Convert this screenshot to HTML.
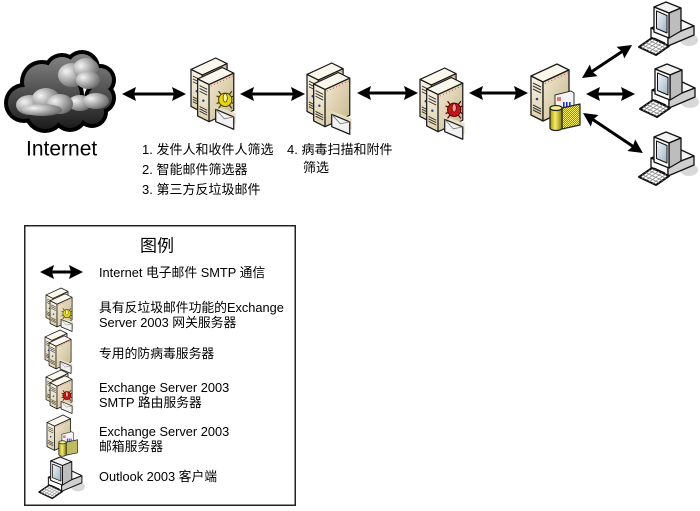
<!DOCTYPE html>
<html><head><meta charset="utf-8"><style>
html,body{margin:0;padding:0;background:#fff;}
svg{display:block;}
text{font-family:"Liberation Sans","Noto Sans CJK SC",sans-serif;fill:#000;}
</style></head><body>
<svg width="700" height="511" viewBox="0 0 700 511" xmlns="http://www.w3.org/2000/svg">
<defs>
 <linearGradient id="gSide" x1="0" y1="0" x2="1" y2="1">
  <stop offset="0" stop-color="#f1e9d2"/><stop offset="1" stop-color="#c6b68c"/>
 </linearGradient>
 <linearGradient id="gFront" x1="0" y1="0" x2="0" y2="1">
  <stop offset="0" stop-color="#f8f3e3"/><stop offset="1" stop-color="#ddd0aa"/>
 </linearGradient>
 <linearGradient id="gCloud" gradientUnits="userSpaceOnUse" x1="0" y1="52" x2="0" y2="134">
  <stop offset="0" stop-color="#888"/><stop offset="1" stop-color="#141414"/>
 </linearGradient>
 <radialGradient id="gBlob" cx="0.3" cy="0.35" r="0.8">
  <stop offset="0" stop-color="#f4f4f4"/><stop offset="1" stop-color="#5c5c5c"/>
 </radialGradient>
 <linearGradient id="gScreen" x1="0" y1="0" x2="1" y2="1">
  <stop offset="0" stop-color="#f0f6fa"/><stop offset="1" stop-color="#9fb4c4"/>
 </linearGradient>
 <linearGradient id="gCyl" x1="0" y1="0" x2="1" y2="0">
  <stop offset="0" stop-color="#a89800"/><stop offset="0.45" stop-color="#f4ec70"/><stop offset="1" stop-color="#8a7c00"/>
 </linearGradient>
 <pattern id="chk" width="2" height="2" patternUnits="userSpaceOnUse">
  <rect width="2" height="2" fill="#f2ea60"/><rect width="1" height="1" fill="#8c8a60"/><rect x="1" y="1" width="1" height="1" fill="#8c8a60"/>
 </pattern>

 <g id="tw">
  <g stroke="#1a1a1a" stroke-width="1.3" stroke-linejoin="round">
   <path d="M0,12 L26,0 L38,6 L12,18 Z" fill="#fbf7ec"/>
   <path d="M0,12 L12,18 L12,57 L0,51 Z" fill="url(#gFront)"/>
   <path d="M12,18 L38,6 L38,45 L12,57 Z" fill="url(#gSide)"/>
  </g>
  <g stroke="#333" stroke-width="1" fill="none">
   <path d="M2,19 L10,23 M2,22 L10,26 M2,25 L10,29"/>
   <path d="M2,41 L10,45 M2,43.5 L10,47.5 M2,46 L10,50"/>
  </g>
  <circle cx="6" cy="35" r="1.3" fill="#3040a0"/>
  <path d="M14,19.5 L37,9" stroke="#e04040" stroke-width="1" stroke-dasharray="1 2.5" fill="none"/>
 </g>

 <g id="env">
  <path d="M24,50 L47,58 L47,70 L30,66 Z" fill="#e8dfc4"/>
  <path d="M26,54 L45,62 L45,75 L26,67 Z" fill="#f2f2f2" stroke="#1a1a1a" stroke-width="1.3" stroke-linejoin="round"/>
  <path d="M26,54 L35,64 L45,62" fill="none" stroke="#777" stroke-width="0.8"/>
 </g>

 <g id="srv2">
  <use href="#tw"/>
  <use href="#tw" x="7" y="10"/>
  <use href="#env"/>
 </g>

 <g id="bY">
  <g stroke="#4a3c00" stroke-width="1.3">
   <path d="M27,40 L45,48 M27,48 L45,40 M29,35 L43,53 M43,35 L29,53"/>
  </g>
  <circle cx="36" cy="44" r="7" fill="#e6d800" stroke="#4a3c00" stroke-width="1"/>
  <ellipse cx="36" cy="42" rx="2.2" ry="4.5" fill="#fffbb0" stroke="#4a3c00" stroke-width="0.8"/>
 </g>
 <g id="bR">
  <g stroke="#5a0000" stroke-width="1.3">
   <path d="M27,40 L45,48 M27,48 L45,40 M29,35 L43,53 M43,35 L29,53"/>
  </g>
  <circle cx="36" cy="44" r="7" fill="#c81414" stroke="#5a0000" stroke-width="1"/>
  <ellipse cx="36" cy="42" rx="2.2" ry="4.5" fill="#f4a0a0" stroke="#5a0000" stroke-width="0.8"/>
 </g>

 <g id="mb">
  <path d="M24,31 L40,27 L43,29 L43,46 L24,46 Z" fill="#f4f4f4" stroke="#333" stroke-width="1"/>
  <rect x="26" y="33" width="4" height="4" fill="#f07070"/>
  <rect x="32" y="38" width="1.6" height="6" fill="#2030e0"/>
  <rect x="35" y="38" width="1.6" height="6" fill="#2030e0"/>
  <rect x="38" y="38" width="1.6" height="6" fill="#2030e0"/>
  <path d="M31,44 L49,40 L49,61 L31,65 Z" fill="url(#chk)" stroke="#222" stroke-width="1.2" stroke-linejoin="round"/>
  <path d="M19,44 V64 A6,2.5 0 0 0 31,64 V44" fill="url(#gCyl)" stroke="#222" stroke-width="1.2"/>
  <ellipse cx="25" cy="44" rx="6" ry="2.5" fill="#f6f090" stroke="#222" stroke-width="1.2"/>
 </g>

 <g id="cl">
  <ellipse cx="50" cy="38" rx="9" ry="6" fill="#d8d8d8"/>
  <g stroke="#111" stroke-width="1.3" stroke-linejoin="round">
   <path d="M12,26 L38,16 L55,24 L29,34 Z" fill="#f6f6f6"/>
   <path d="M12,26 L29,34 L29,44 L12,36 Z" fill="#fff"/>
   <path d="M29,34 L55,24 L55,33 L29,44 Z" fill="#cfcfcf"/>
   <path d="M15,36 L26,41" fill="none" stroke-width="1"/>
   <path d="M15,5 L27,0 L42,6 L30,11 Z" fill="#f2f2f2"/>
   <path d="M30,11 L42,6 L42,29 L30,36 Z" fill="#bdbdbd"/>
   <path d="M15,5 L30,11 L30,36 L15,30 Z" fill="#fafafa"/>
   <path d="M17.5,9 L28,13.5 L28,31 L17.5,26.5 Z" fill="url(#gScreen)" stroke-width="1"/>
   <path d="M0,45 L13,36 L30,44 L17,53 Z" fill="#fff" stroke-width="2"/>
  </g>
  <path d="M3.25,42.75 L20.25,50.75 M6.5,40.5 L23.5,48.5 M9.75,38.25 L26.75,46.25 M3.4,46.6 L16.4,37.6 M6.8,48.2 L19.8,39.2 M10.2,49.8 L23.2,40.8 M13.6,51.4 L26.6,42.4" stroke="#888" stroke-width="0.7" fill="none"/>
 </g>
</defs>

<!-- Cloud -->
<g>
 <g fill="#000">
  <circle cx="24" cy="103" r="20"/>
  <circle cx="42" cy="82" r="22"/>
  <circle cx="62" cy="72" r="19"/>
  <circle cx="82" cy="68" r="18"/>
  <circle cx="100" cy="80" r="16"/>
  <circle cx="100" cy="98" r="16"/>
  <circle cx="92" cy="112" r="16"/>
  <circle cx="70" cy="114" r="18"/>
  <circle cx="45" cy="112" r="21"/>
  <circle cx="60" cy="95" r="24"/>
 </g>
 <g fill="url(#gCloud)">
  <circle cx="24" cy="103" r="16"/>
  <circle cx="42" cy="82" r="18"/>
  <circle cx="62" cy="72" r="15"/>
  <circle cx="82" cy="68" r="14"/>
  <circle cx="100" cy="80" r="12"/>
  <circle cx="100" cy="98" r="12"/>
  <circle cx="92" cy="112" r="12"/>
  <circle cx="70" cy="114" r="14"/>
  <circle cx="45" cy="112" r="17"/>
  <circle cx="60" cy="95" r="20"/>
 </g>
 <g fill="url(#gBlob)">
  <ellipse cx="72" cy="75" rx="14" ry="12"/>
  <ellipse cx="86" cy="69" rx="13" ry="11"/>
  <ellipse cx="88" cy="80" rx="12" ry="9"/>
  <ellipse cx="80" cy="103" rx="12" ry="8"/>
  <ellipse cx="96" cy="101" rx="13" ry="8"/>
  <ellipse cx="30" cy="105" rx="14" ry="10"/>
  <ellipse cx="46" cy="99" rx="14" ry="11"/>
  <ellipse cx="60" cy="104" rx="13" ry="10"/>
  <ellipse cx="42" cy="110" rx="20" ry="6"/>
 </g>
</g>
<text x="26" y="155.5" font-size="21">Internet</text>

<!-- Servers -->
<g transform="translate(191,58) scale(0.95)"><use href="#srv2"/><use href="#bY"/></g>
<g transform="translate(307,63) scale(0.95)"><use href="#srv2"/></g>
<g transform="translate(420,68) scale(0.95)"><use href="#srv2"/><use href="#bR"/></g>
<g transform="translate(531,64)"><use href="#tw"/><use href="#mb"/></g>

<!-- Clients -->
<g transform="translate(639,2)"><use href="#cl"/></g>
<g transform="translate(640,64)"><use href="#cl"/></g>
<g transform="translate(639,132)"><use href="#cl"/></g>

<!-- Arrows -->
<g fill="#000" stroke="none">
 <g transform="translate(122,94)"><path d="M11,0 H53" stroke="#000" stroke-width="3"/><path d="M0,0 L14,-7 L12,0 L14,7 Z M64,0 L50,-7 L52,0 L50,7 Z"/></g>
 <g transform="translate(240,94)"><path d="M11,0 H54" stroke="#000" stroke-width="3"/><path d="M0,0 L14,-7 L12,0 L14,7 Z M65,0 L51,-7 L53,0 L51,7 Z"/></g>
 <g transform="translate(357,93)"><path d="M11,0 H50" stroke="#000" stroke-width="3"/><path d="M0,0 L14,-7 L12,0 L14,7 Z M61,0 L47,-7 L49,0 L47,7 Z"/></g>
 <g transform="translate(469,93)"><path d="M11,0 H48" stroke="#000" stroke-width="3"/><path d="M0,0 L14,-7 L12,0 L14,7 Z M59,0 L45,-7 L47,0 L45,7 Z"/></g>
 <g transform="translate(582,78) rotate(-33.4)"><path d="M11,0 H49" stroke="#000" stroke-width="3"/><path d="M0,0 L14,-7 L12,0 L14,7 Z M60,0 L46,-7 L48,0 L46,7 Z"/></g>
 <g transform="translate(586,94)"><path d="M11,0 H38" stroke="#000" stroke-width="3"/><path d="M0,0 L14,-7 L12,0 L14,7 Z M49,0 L35,-7 L37,0 L35,7 Z"/></g>
 <g transform="translate(583,113) rotate(33.7)"><path d="M11,0 H61" stroke="#000" stroke-width="3"/><path d="M0,0 L14,-7 L12,0 L14,7 Z M72,0 L58,-7 L60,0 L58,7 Z"/></g>
</g>

<!-- Labels -->
<g font-size="13">
 <text x="142" y="154">1. 发件人和收件人筛选</text>
 <text x="142" y="174">2. 智能邮件筛选器</text>
 <text x="142" y="194">3. 第三方反垃圾邮件</text>
 <text x="287" y="154">4. 病毒扫描和附件</text>
 <text x="303" y="172">筛选</text>
</g>

<!-- Legend -->
<rect x="24.75" y="225.75" width="270.5" height="279.5" fill="none" stroke="#222" stroke-width="1.5"/>
<text x="157" y="251.5" font-size="17" text-anchor="middle">图例</text>
<g transform="translate(40,272)"><path d="M11,0 H32" stroke="#000" stroke-width="3"/><path d="M0,0 L14,-7 L12,0 L14,7 Z M43,0 L29,-7 L31,0 L29,7 Z" fill="#000"/></g>
<g transform="translate(46,288) scale(0.58)"><use href="#srv2"/><use href="#bY"/></g>
<g transform="translate(45,330) scale(0.58)"><use href="#srv2"/></g>
<g transform="translate(46,370) scale(0.58)"><use href="#srv2"/><use href="#bR"/></g>
<g transform="translate(47,415) scale(0.62)"><use href="#tw"/><use href="#mb"/></g>
<g transform="translate(39,457) scale(0.78)"><use href="#cl"/></g>
<g font-size="12.8">
 <text x="99" y="277">Internet 电子邮件 SMTP 通信</text>
 <text x="99" y="312">具有反垃圾邮件功能的Exchange</text>
 <text x="99" y="327">Server 2003 网关服务器</text>
 <text x="99" y="358">专用的防病毒服务器</text>
 <text x="99" y="392">Exchange Server 2003</text>
 <text x="99" y="407">SMTP 路由服务器</text>
 <text x="99" y="436">Exchange Server 2003</text>
 <text x="99" y="451">邮箱服务器</text>
 <text x="99" y="481">Outlook 2003 客户端</text>
</g>
</svg>
</body></html>
